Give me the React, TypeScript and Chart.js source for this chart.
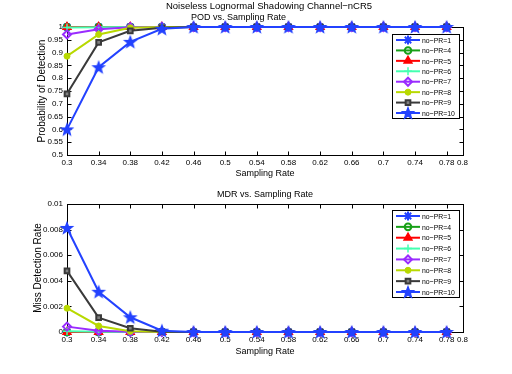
import React, { useEffect, useRef } from 'react';
import { Chart, registerables } from 'chart.js';
import { drawPoint } from 'chart.js/helpers';

Chart.register(...registerables);

// ---------- data ----------
const SAMPLING_RATES = [0.3, 0.34, 0.38, 0.42, 0.46, 0.5, 0.54, 0.58, 0.62, 0.66, 0.7, 0.74, 0.78];
const X_TICKS = [0.3, 0.34, 0.38, 0.42, 0.46, 0.5, 0.54, 0.58, 0.62, 0.66, 0.7, 0.74, 0.78, 0.8];
const X_TICK_LABELS = ['0.3', '0.34', '0.38', '0.42', '0.46', '0.5', '0.54', '0.58', '0.62', '0.66', '0.7', '0.74', '0.78', '0.8'];

const SERIES_NAMES = ['no\u2212PR=1', 'no\u2212PR=4', 'no\u2212PR=5', 'no\u2212PR=6', 'no\u2212PR=7', 'no\u2212PR=8', 'no\u2212PR=9', 'no\u2212PR=10'];

const POD_PR1 = [1, 1, 1, 1, 1, 1, 1, 1, 1, 1, 1, 1, 1];
const POD_PR4 = [1, 1, 1, 1, 1, 1, 1, 1, 1, 1, 1, 1, 1];
const POD_PR5 = [1, 1, 1, 1, 1, 1, 1, 1, 1, 1, 1, 1, 1];
const POD_PR6 = [0.998, 0.999, 1, 1, 1, 1, 1, 1, 1, 1, 1, 1, 1];
const POD_PR7 = [0.971, 0.991, 0.999, 1, 1, 1, 1, 1, 1, 1, 1, 1, 1];
const POD_PR8 = [0.886, 0.971, 0.997, 1, 1, 1, 1, 1, 1, 1, 1, 1, 1];
const POD_PR9 = [0.739, 0.94, 0.985, 0.997, 1, 1, 1, 1, 1, 1, 1, 1, 1];
const POD_PR10 = [0.6, 0.843, 0.942, 0.993, 1, 1, 1, 1, 1, 1, 1, 1, 1];

const MDR_PR1 = [0, 0, 0, 0, 0, 0, 0, 0, 0, 0, 0, 0, 0];
const MDR_PR4 = [0, 0, 0, 0, 0, 0, 0, 0, 0, 0, 0, 0, 0];
const MDR_PR5 = [0, 0, 0, 0, 0, 0, 0, 0, 0, 0, 0, 0, 0];
const MDR_PR6 = [0.00005, 0.00001, 0, 0, 0, 0, 0, 0, 0, 0, 0, 0, 0];
const MDR_PR7 = [0.00042, 0.0001, 0.00001, 0, 0, 0, 0, 0, 0, 0, 0, 0, 0];
const MDR_PR8 = [0.00186, 0.00047, 0.00005, 0, 0, 0, 0, 0, 0, 0, 0, 0, 0];
const MDR_PR9 = [0.00478, 0.00112, 0.00029, 0.00002, 0, 0, 0, 0, 0, 0, 0, 0, 0];
const MDR_PR10 = [0.00813, 0.00314, 0.00115, 0.0001, 0, 0, 0, 0, 0, 0, 0, 0, 0];

const POD_Y_TICKS = [0.5, 0.55, 0.6, 0.65, 0.7, 0.75, 0.8, 0.85, 0.9, 0.95, 1];
const POD_Y_LABELS = ['0.5', '0.55', '0.6', '0.65', '0.7', '0.75', '0.8', '0.85', '0.9', '0.95', '1'];
const MDR_Y_TICKS = [0, 0.002, 0.004, 0.006, 0.008, 0.01];
const MDR_Y_LABELS = ['0', '0.002', '0.004', '0.006', '0.008', '0.01'];

const POD_SERIES = [POD_PR1, POD_PR4, POD_PR5, POD_PR6, POD_PR7, POD_PR8, POD_PR9, POD_PR10];
const MDR_SERIES = [MDR_PR1, MDR_PR4, MDR_PR5, MDR_PR6, MDR_PR7, MDR_PR8, MDR_PR9, MDR_PR10];

// ---------- styles ----------
const FONT_FAMILY = '"Liberation Sans", Arial, Helvetica, sans-serif';

type Style = { color: string; pointStyle: string; radius: number; fill: string; bw: number };
const SERIES_STYLES: Style[] = [
  { color: '#2342ff', pointStyle: 'star', radius: 4.5, fill: '#2342ff', bw: 2 },
  { color: '#17a017', pointStyle: 'circle', radius: 3.3, fill: 'rgba(0,0,0,0)', bw: 2 },
  { color: '#ff0000', pointStyle: 'triangle', radius: 4.5, fill: '#ff0000', bw: 1.5 },
  { color: '#44ffb0', pointStyle: 'cross', radius: 4, fill: '#44ffb0', bw: 1.5 },
  { color: '#9a2cff', pointStyle: 'rectRot', radius: 4, fill: 'rgba(0,0,0,0)', bw: 2 },
  { color: '#b8d900', pointStyle: 'circle', radius: 3, fill: '#b8d900', bw: 1 },
  { color: '#3a3a3a', pointStyle: 'rect', radius: 3.3, fill: '#808080', bw: 2 },
  { color: '#2342ff', pointStyle: 'pentagram', radius: 6.5, fill: '#2342ff', bw: 1 },
];

function makePentagram(color: string, r: number): HTMLCanvasElement {
  const size = Math.ceil(r * 2 + 4);
  const c = document.createElement('canvas');
  c.width = size;
  c.height = size;
  const ctx = c.getContext('2d')!;
  const cx = size / 2;
  const cy = size / 2 + 0.5;
  ctx.beginPath();
  for (let i = 0; i < 10; i++) {
    const ang = -Math.PI / 2 + (i * Math.PI) / 5;
    const rr = i % 2 === 0 ? r : r * 0.42;
    const px = cx + rr * Math.cos(ang);
    const py = cy + rr * Math.sin(ang);
    if (i === 0) ctx.moveTo(px, py);
    else ctx.lineTo(px, py);
  }
  ctx.closePath();
  ctx.fillStyle = color;
  ctx.fill();
  ctx.strokeStyle = color;
  ctx.lineWidth = 1.2;
  ctx.stroke();
  return c;
}

type TextSpec = { text: string; x: number; y: number; size: number; rotate?: boolean };

type PanelProps = {
  top: number;
  height: number;
  padTop: number;
  xAxisHeight: number;
  series: number[][];
  yMin: number;
  yMax: number;
  yTicks: number[];
  yLabels: string[];
  texts: TextSpec[];
  legendTop: number;
  legendBottom: number;
};

function Panel(props: PanelProps) {
  const ref = useRef<HTMLCanvasElement | null>(null);

  useEffect(() => {
    const canvas = ref.current!;
    const star = makePentagram('#2342ff', 6);
    const resolvedStyle = (s: Style) => (s.pointStyle === 'pentagram' ? star : s.pointStyle);

    const datasets = props.series.map((vals, i) => {
      const s = SERIES_STYLES[i];
      return {
        label: SERIES_NAMES[i],
        data: SAMPLING_RATES.map((x, k) => ({ x, y: vals[k] })),
        borderColor: s.color,
        backgroundColor: s.fill,
        borderWidth: 2,
        pointStyle: resolvedStyle(s) as any,
        pointRadius: s.radius,
        pointBorderWidth: s.bw,
        pointBorderColor: s.color,
        pointBackgroundColor: s.fill,
        tension: 0,
        clip: false as any,
        order: 7 - i,
      };
    });

    const boxPlugin = {
      id: 'matlabBox',
      beforeDatasetsDraw(chart: any) {
        const { ctx, chartArea } = chart;
        const l = Math.round(chartArea.left) + 0.5;
        const r = Math.round(chartArea.right) + 0.5;
        const t = Math.round(chartArea.top) + 0.5;
        const b = Math.round(chartArea.bottom) + 0.5;
        ctx.save();
        ctx.strokeStyle = '#000';
        ctx.lineWidth = 1;
        ctx.strokeRect(l, t, r - l, b - t);
        const tl = 4;
        ctx.beginPath();
        const xs = chart.scales.x;
        X_TICKS.forEach((v) => {
          const px = Math.round(xs.getPixelForValue(v)) + 0.5;
          ctx.moveTo(px, b);
          ctx.lineTo(px, b - tl);
          ctx.moveTo(px, t);
          ctx.lineTo(px, t + tl);
        });
        const ys = chart.scales.y;
        props.yTicks.forEach((v) => {
          const py = Math.round(ys.getPixelForValue(v)) + 0.5;
          ctx.moveTo(l, py);
          ctx.lineTo(l + tl, py);
          ctx.moveTo(r, py);
          ctx.lineTo(r - tl, py);
        });
        ctx.stroke();
        ctx.restore();
      },
      afterDraw(chart: any) {
        const { ctx } = chart;
        ctx.save();
        // texts
        ctx.fillStyle = '#000';
        ctx.textAlign = 'center';
        ctx.textBaseline = 'middle';
        props.texts.forEach((t) => {
          ctx.font = `${t.size}px ${FONT_FAMILY}`;
          if (t.rotate) {
            ctx.save();
            ctx.translate(t.x, t.y);
            ctx.rotate(-Math.PI / 2);
            ctx.fillText(t.text, 0, 0);
            ctx.restore();
          } else {
            ctx.fillText(t.text, t.x, t.y);
          }
        });
        // legend
        const bl = 392.5;
        const br = 459.5;
        const bt = props.legendTop + 0.5;
        const bb = props.legendBottom + 0.5;
        ctx.fillStyle = '#fff';
        ctx.fillRect(bl, bt, br - bl, bb - bt);
        ctx.strokeStyle = '#000';
        ctx.lineWidth = 1;
        ctx.strokeRect(bl, bt, br - bl, bb - bt);
        const n = SERIES_NAMES.length;
        const step = (bb - bt - 11) / (n - 1);
        for (let i = 0; i < n; i++) {
          const s = SERIES_STYLES[i];
          const y = bt + 5.5 + i * step;
          ctx.strokeStyle = s.color;
          ctx.lineWidth = 2;
          ctx.beginPath();
          ctx.moveTo(396, y);
          ctx.lineTo(420, y);
          ctx.stroke();
          ctx.fillStyle = s.fill;
          ctx.strokeStyle = s.color;
          ctx.lineWidth = s.bw;
          drawPoint(ctx, { pointStyle: resolvedStyle(s) as any, radius: s.radius, borderWidth: s.bw, rotation: 0 } as any, 408, y);
          ctx.fillStyle = '#000';
          ctx.textAlign = 'left';
          ctx.font = `8px ${FONT_FAMILY}`;
          ctx.save();
          ctx.translate(422, y + 0.5);
          ctx.scale(0.86, 1);
          ctx.fillText(SERIES_NAMES[i], 0, 0);
          ctx.restore();
        }
        ctx.restore();
      },
    };

    const chart = new Chart(canvas, {
      type: 'line',
      data: { datasets: datasets as any },
      options: {
        responsive: false,
        animation: false,
        devicePixelRatio: 1,
        layout: { padding: { top: props.padTop, left: 0, right: 49.5, bottom: 0 } },
        plugins: { legend: { display: false }, tooltip: { enabled: false }, title: { display: false } },
        scales: {
          x: {
            type: 'linear',
            min: 0.3,
            max: 0.8,
            afterBuildTicks: (s: any) => {
              s.ticks = X_TICKS.map((v) => ({ value: v }));
            },
            afterFit: (s: any) => {
              s.height = props.xAxisHeight;
            },
            grid: { display: false, drawTicks: false },
            border: { display: false },
            ticks: {
              autoSkip: false,
              maxRotation: 0,
              padding: 3,
              color: '#000',
              font: { family: FONT_FAMILY, size: 8 },
              callback: (_v: any, i: number) => X_TICK_LABELS[i],
            },
          },
          y: {
            type: 'linear',
            min: props.yMin,
            max: props.yMax,
            afterBuildTicks: (s: any) => {
              s.ticks = props.yTicks.map((v) => ({ value: v }));
            },
            afterFit: (s: any) => {
              s.width = 67;
            },
            grid: { display: false, drawTicks: false },
            border: { display: false },
            ticks: {
              autoSkip: false,
              padding: 4,
              color: '#000',
              font: { family: FONT_FAMILY, size: 8 },
              callback: (_v: any, i: number) => props.yLabels[i],
            },
          },
        },
      },
      plugins: [boxPlugin],
    });
    return () => chart.destroy();
  }, []);

  return (
    <canvas
      ref={ref}
      width={512}
      height={props.height}
      style={{ position: 'absolute', left: 0, top: props.top, width: 512, height: props.height, display: 'block' }}
    />
  );
}

export default function App() {
  return (
    <div style={{ position: 'absolute', left: 0, top: 0, width: 512, height: 374, background: '#fff', overflow: 'hidden' }}>
      <Panel
        top={0}
        height={180}
        padTop={27}
        xAxisHeight={25}
        series={POD_SERIES}
        yMin={0.5}
        yMax={1}
        yTicks={POD_Y_TICKS}
        yLabels={POD_Y_LABELS}
        legendTop={34}
        legendBottom={118}
        texts={[
          { text: 'Noiseless Lognormal Shadowing Channel\u2212nCR5', x: 269, y: 6, size: 9.5 },
          { text: 'POD vs. Sampling Rate', x: 238.5, y: 17.5, size: 9 },
          { text: 'Sampling Rate', x: 265, y: 174, size: 9 },
          { text: 'Probability of Detection', x: 42, y: 91, size: 10, rotate: true },
        ]}
      />
      <Panel
        top={180}
        height={194}
        padTop={24}
        xAxisHeight={42}
        series={MDR_SERIES}
        yMin={0}
        yMax={0.01}
        yTicks={MDR_Y_TICKS}
        yLabels={MDR_Y_LABELS}
        legendTop={30}
        legendBottom={117}
        texts={[
          { text: 'MDR vs. Sampling Rate', x: 265, y: 15, size: 9 },
          { text: 'Sampling Rate', x: 265, y: 172, size: 9 },
          { text: 'Miss Detection Rate', x: 38, y: 88, size: 10, rotate: true },
        ]}
      />
    </div>
  );
}
